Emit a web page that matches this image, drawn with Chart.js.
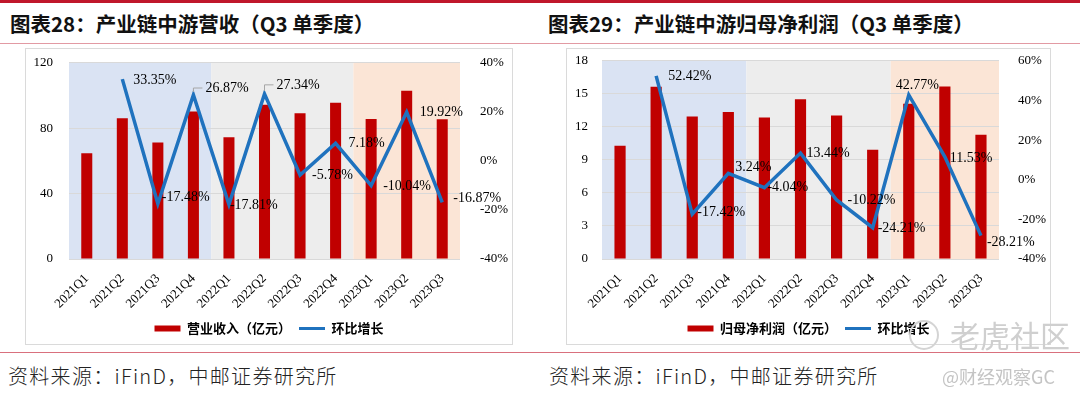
<!DOCTYPE html>
<html>
<head>
<meta charset="utf-8">
<script src="https://cdn.jsdelivr.net/npm/chart.js@4.4.0/dist/chart.umd.min.js"></script>
<style>
  body { margin: 0; width: 1080px; height: 396px; background: #fff; position: relative; overflow: hidden; font-family: "Noto Sans CJK SC", sans-serif; }
  .topline { position: absolute; left: 0; top: 0; width: 1080px; height: 3px; background: #c0172b; }
  .subline { position: absolute; left: 0; top: 43px; width: 1080px; height: 1px; background: #e29aa3; }
  .bottomline { position: absolute; left: 0; top: 352px; width: 1080px; height: 1px; background: #d9707d; }
  .title { position: absolute; top: 9px; font-size: 20.5px; font-weight: bold; color: #111; white-space: nowrap; line-height: 28px; }
  .source { position: absolute; top: 362px; font-size: 20px; font-weight: 300; color: #222; white-space: nowrap; letter-spacing: 1.3px; line-height: 28px; }
  .box { position: absolute; top: 48px; height: 297px; border: 1px solid #dadada; box-sizing: border-box; }
  canvas { position: absolute; top: 39px; }
  .wm1 { position: absolute; left: 950px; top: 314px; font-size: 30px; color: #cfcfcf; white-space: nowrap; line-height: 40px; }
  .wm2 { position: absolute; left: 942px; top: 363px; font-size: 18px; color: #c4c4c4; white-space: nowrap; line-height: 26px; }
  .logo { position: absolute; left: 909px; top: 320px; width: 26px; height: 26px; border: 2px solid #d4d4d4; border-radius: 50%; }
</style>
</head>
<body>
<div class="topline"></div>
<div class="title" style="left:10px">图表28：产业链中游营收（Q3 单季度）</div>
<div class="title" style="left:548px">图表29：产业链中游归母净利润（Q3 单季度）</div>
<div class="subline"></div>
<div class="box" style="left:25px;width:488px"></div>
<div class="box" style="left:566px;width:485px"></div>
<canvas id="revChart" width="488" height="306" style="left:25px"></canvas>
<canvas id="profitChart" width="485" height="306" style="left:566px"></canvas>
<div class="bottomline"></div>
<div class="source" style="left:8px">资料来源：iFinD，中邮证券研究所</div>
<div class="source" style="left:549px">资料来源：iFinD，中邮证券研究所</div>
<div class="logo"></div>
<div class="wm1">老虎社区</div>
<div class="wm2">@财经观察GC</div>

<script>
const quarters = ['2021Q1', '2021Q2', '2021Q3', '2021Q4', '2022Q1', '2022Q2', '2022Q3', '2022Q4', '2023Q1', '2023Q2', '2023Q3'];

// 营业收入（亿元）
const revenue = [64.7, 86.1, 71.2, 90.2, 74.5, 94.3, 89.2, 95.5, 85.7, 102.9, 85.5];
const revenueQoQ = [null, 33.35, -17.48, 26.87, -17.81, 27.34, -5.78, 7.18, -10.04, 19.92, -16.87];

// 归母净利润（亿元）
const profit = [10.28, 15.64, 12.95, 13.35, 12.86, 14.51, 13.04, 9.92, 14.11, 15.67, 11.29];
const profitQoQ = [null, 52.42, -17.42, 3.24, -4.04, 13.44, -10.22, -24.21, 42.77, 11.53, -28.21];

const bandColors = { '2021': '#dae3f3', '2022': '#ededed', '2023': '#fbe5d6' };

// label offsets from the point: [dx, dy, leader line]
const revLabelPos = [null, [11, 1], [4, -6], [12, -7, true], [1, 1], [12, -9, true], [12, 0], [13, 0], [12, 1], [13, 0], [11, -4]];
const profitLabelPos = [null, [12, 1], [5, -2], [7, -6], [3, 0], [6, 0], [11, 0], [5, 1], [-13, -10], [5, 1], [6, 7]];

const yearBands = {
    id: 'yearBands',
    beforeDraw(chart) {
        const { ctx, chartArea: a, scales: { x } } = chart;
        const half = (x.getPixelForValue(1) - x.getPixelForValue(0)) / 2;
        let start = 0;
        ctx.save();
        quarters.forEach((q, i) => {
            const yr = q.slice(0, 4);
            if (i === quarters.length - 1 || quarters[i + 1].slice(0, 4) !== yr) {
                const x0 = x.getPixelForValue(start) - half;
                const x1 = x.getPixelForValue(i) + half;
                ctx.fillStyle = bandColors[yr];
                ctx.fillRect(x0, a.top, x1 - x0, a.bottom - a.top);
                start = i + 1;
            }
        });
        ctx.restore();
    }
};

const pctLabels = {
    id: 'pctLabels',
    afterDatasetsDraw(chart, args, opts) {
        const ctx = chart.ctx;
        const meta = chart.getDatasetMeta(1);
        const values = chart.data.datasets[1].data;
        ctx.save();
        ctx.font = '14px "Liberation Serif"';
        ctx.fillStyle = '#000';
        ctx.textAlign = 'left';
        ctx.textBaseline = 'middle';
        meta.data.forEach((pt, i) => {
            const v = values[i];
            if (v === null || !opts.offsets[i]) return;
            const [dx, dy, leader] = opts.offsets[i];
            const tx = pt.x + dx, ty = pt.y + dy;
            if (leader) {
                ctx.strokeStyle = '#a6a6a6';
                ctx.lineWidth = 1;
                ctx.beginPath();
                ctx.moveTo(pt.x, pt.y - 3);
                ctx.lineTo(pt.x, ty);
                ctx.lineTo(tx - 3, ty);
                ctx.stroke();
            }
            ctx.fillText(v.toFixed(2) + '%', tx, ty);
        });
        ctx.restore();
    }
};

const tickFont = { family: '"Liberation Serif"', size: 13 };

function makeChart(id, barLabel, bars, growth, labelPos, left, right) {
    new Chart(document.getElementById(id), {
        type: 'bar',
        data: {
            labels: quarters,
            datasets: [{
                type: 'bar',
                label: barLabel,
                data: bars,
                backgroundColor: '#c00000',
                barPercentage: 0.31,
                categoryPercentage: 1,
                yAxisID: 'y',
                order: 1
            }, {
                type: 'line',
                label: '环比增长',
                data: growth,
                borderColor: '#1f72be',
                backgroundColor: '#1f72be',
                borderWidth: 3.5,
                pointRadius: 0,
                tension: 0,
                yAxisID: 'y1',
                order: 0
            }]
        },
        options: {
            responsive: false,
            animation: false,
            layout: { padding: { top: 5, bottom: 0, left: 0, right: 0 } },
            plugins: {
                tooltip: { enabled: false },
                pctLabels: { offsets: labelPos },
                legend: {
                    position: 'bottom',
                    labels: {
                        usePointStyle: true,
                        pointStyleWidth: 26,
                        boxHeight: 6,
                        padding: 8,
                        color: '#000',
                        font: { family: '"Noto Sans CJK SC"', size: 13, weight: 'bold' },
                        sort: (a, b) => a.datasetIndex - b.datasetIndex,
                        generateLabels(chart) {
                            return chart.data.datasets.map((ds, i) => ({
                                text: ds.label,
                                fillStyle: ds.backgroundColor,
                                strokeStyle: ds.type === 'line' ? ds.borderColor : ds.backgroundColor,
                                lineWidth: ds.type === 'line' ? 3 : 0,
                                pointStyle: ds.type === 'line' ? 'line' : 'rect',
                                datasetIndex: i,
                                fontColor: '#000'
                            }));
                        }
                    }
                }
            },
            scales: {
                x: {
                    grid: { display: false },
                    border: { display: false },
                    ticks: { color: '#000', font: { family: '"Liberation Serif"', size: 13 }, minRotation: 45, maxRotation: 45, padding: 4 },
                    afterFit: s => { s.height = 55; }
                },
                y: {
                    position: 'left',
                    min: left.min, max: left.max,
                    ticks: { stepSize: left.step, color: '#000', font: tickFont, padding: left.pad },
                    grid: { color: '#d9d9d9', drawTicks: false },
                    border: { display: false },
                    afterFit: s => { s.width = left.width; }
                },
                y1: {
                    position: 'right',
                    min: right.min, max: right.max,
                    ticks: { stepSize: right.step, color: '#000', font: tickFont, padding: right.pad, callback: v => v + '%' },
                    grid: { display: false },
                    border: { display: false },
                    afterFit: s => { s.width = right.width; }
                }
            }
        },
        plugins: [yearBands, pctLabels]
    });
}

makeChart('revChart', '营业收入（亿元）', revenue, revenueQoQ, revLabelPos,
    { min: 0, max: 120, step: 40, width: 44, pad: 16 },
    { min: -40, max: 40, step: 20, width: 53, pad: 12 });

makeChart('profitChart', '归母净利润（亿元）', profit, profitQoQ, profitLabelPos,
    { min: 0, max: 18, step: 3, width: 36, pad: 14 },
    { min: -40, max: 60, step: 20, width: 52, pad: 11 });
</script>
</body>
</html>
